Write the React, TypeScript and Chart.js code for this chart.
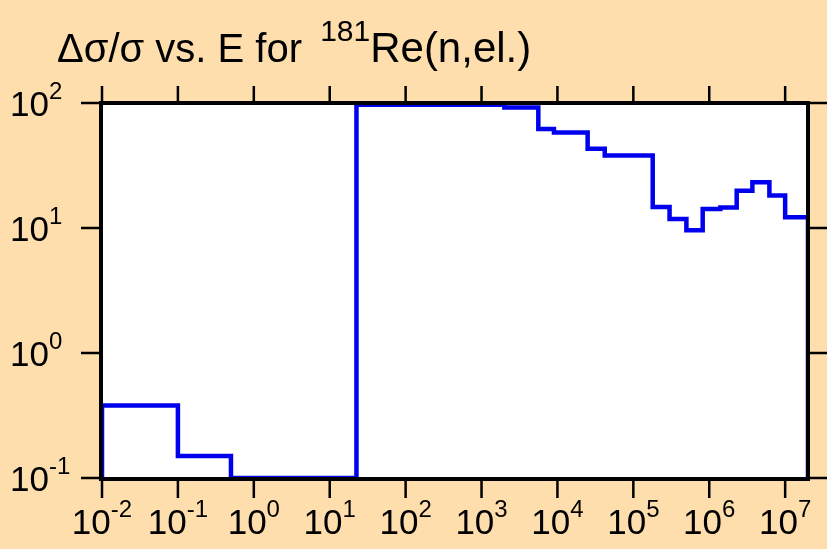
import React, { useEffect, useRef } from 'react';
import { Chart, registerables } from 'chart.js';

Chart.register(...registerables);

// ---- data ----
const binEdges = [0.01, 0.1, 0.5, 22.5, 2000, 5600, 9000, 25000, 42000, 180000, 300000, 500000, 820000, 1.4e6, 2.3e6, 3.7e6, 6.2e6, 1e7, 2e7];
const relUncertainty = [0.38, 0.15, 0.1, 97, 92, 62, 58, 43, 38, 14.7, 11.8, 9.6, 14.2, 14.6, 19.9, 23.2, 18.2, 12.2];
const xTickExponents = ['-2', '-1', '0', '1', '2', '3', '4', '5', '6', '7'];
const yTickExponents = ['-1', '0', '1', '2'];
const titleMain = 'Δσ/σ vs. E for ';
const titleSup = '181';
const titleRest = 'Re(n,el.)';

const FONT = '"Liberation Sans", Arial, sans-serif';
const BG = '#FFDEAD';
const LINE = '#0000ee';
const TICK_FONT = 35;
const SUP_FONT = 24;

function drawPow(ctx: CanvasRenderingContext2D, exp: string, x: number, baseline: number, align: 'left' | 'center') {
  ctx.font = `${TICK_FONT}px ${FONT}`;
  const wb = ctx.measureText('10').width;
  ctx.font = `${SUP_FONT}px ${FONT}`;
  const we = ctx.measureText(exp).width;
  const start = align === 'center' ? x - (wb + we) / 2 : x;
  ctx.textAlign = 'left';
  ctx.textBaseline = 'alphabetic';
  ctx.fillStyle = '#000';
  ctx.font = `${TICK_FONT}px ${FONT}`;
  ctx.fillText('10', start, baseline);
  ctx.font = `${SUP_FONT}px ${FONT}`;
  ctx.fillText(exp, start + wb, baseline - 17);
}

const framePlugin = {
  id: 'frame',
  beforeDraw(chart: any) {
    const { ctx, chartArea } = chart;
    ctx.save();
    ctx.fillStyle = '#ffffff';
    ctx.fillRect(chartArea.left, chartArea.top, chartArea.right - chartArea.left, chartArea.bottom - chartArea.top);
    ctx.restore();
  },
  afterDraw(chart: any) {
    const { ctx, chartArea } = chart;
    const { left, right, top, bottom } = chartArea;
    const xs = chart.scales.x;
    const ys = chart.scales.y;
    ctx.save();
    ctx.strokeStyle = '#000';
    ctx.lineWidth = 4;
    ctx.strokeRect(left - 1, top, right - left + 1, bottom - top + 1);
    ctx.lineWidth = 2.5;
    ctx.beginPath();
    xTickExponents.forEach((e) => {
      const px = xs.getPixelForValue(Math.pow(10, Number(e)));
      ctx.moveTo(px, top - 17);
      ctx.lineTo(px, top);
      ctx.moveTo(px, bottom);
      ctx.lineTo(px, bottom + 20);
    });
    yTickExponents.forEach((e) => {
      const py = ys.getPixelForValue(Math.pow(10, Number(e)));
      ctx.moveTo(left - 21, py);
      ctx.lineTo(left, py);
      ctx.moveTo(right, py);
      ctx.lineTo(right + 21, py);
    });
    ctx.stroke();

    xTickExponents.forEach((e) => {
      const px = xs.getPixelForValue(Math.pow(10, Number(e)));
      drawPow(ctx, e, px, 534, 'center');
    });
    yTickExponents.forEach((e) => {
      const py = ys.getPixelForValue(Math.pow(10, Number(e)));
      drawPow(ctx, e, 10, py + 13, 'left');
    });

    // title
    ctx.fillStyle = '#000';
    ctx.textAlign = 'left';
    ctx.textBaseline = 'alphabetic';
    let tx = 57;
    ctx.font = `40px ${FONT}`;
    ctx.fillText(titleMain, tx, 62);
    tx += ctx.measureText(titleMain).width + 7;
    ctx.font = `30px ${FONT}`;
    ctx.fillText(titleSup, tx, 41);
    tx += ctx.measureText(titleSup).width;
    ctx.font = `42px ${FONT}`;
    ctx.fillText(titleRest, tx, 62);
    ctx.restore();
  },
};

export default function App() {
  const ref = useRef<HTMLCanvasElement>(null);
  useEffect(() => {
    const canvas = ref.current;
    if (!canvas) return;
    const floor = 0.1;
    const points: { x: number; y: number }[] = [{ x: binEdges[0], y: floor }];
    relUncertainty.forEach((v, i) => {
      points.push({ x: binEdges[i], y: v });
      points.push({ x: binEdges[i + 1], y: v });
    });
    points.push({ x: binEdges[binEdges.length - 1], y: floor });

    const chart = new Chart(canvas, {
      type: 'line',
      data: {
        datasets: [
          {
            data: points,
            borderColor: LINE,
            borderWidth: 4.5,
            pointRadius: 0,
            fill: false,
            tension: 0,
            borderJoinStyle: 'miter',
            borderCapStyle: 'butt',
          },
        ],
      },
      options: {
        responsive: false,
        animation: false,
        layout: { padding: { left: 102, right: 19, top: 103, bottom: 71 } },
        plugins: { legend: { display: false }, tooltip: { enabled: false }, title: { display: false } },
        scales: {
          x: { type: 'logarithmic', min: 0.01, max: 2e7, display: false },
          y: { type: 'logarithmic', min: 0.1, max: 100, display: false },
        },
      },
      plugins: [framePlugin],
    } as any);
    return () => chart.destroy();
  }, []);
  return (
    <div style={{ position: 'fixed', left: 0, top: 0, width: 827, height: 549, background: BG }}>
      <canvas ref={ref} width={827} height={549} style={{ display: 'block' }} />
    </div>
  );
}
